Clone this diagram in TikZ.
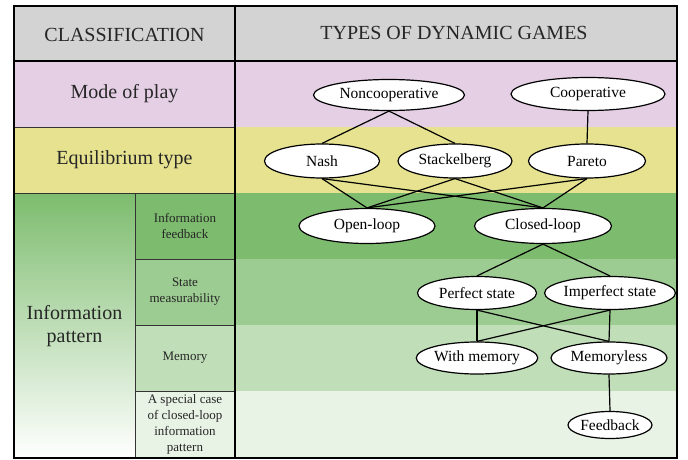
\documentclass[tikz,border=0pt]{standalone}
\usepackage{fontspec}
\setmainfont{Liberation Serif}
\usetikzlibrary{shapes.geometric}
\definecolor{hdrgray}{HTML}{D3D3D3}
\definecolor{playpink}{HTML}{E4CFE4}
\definecolor{eqyellow}{HTML}{E6E28F}
\definecolor{fbgreen}{HTML}{7DBC6E}
\definecolor{smgreen}{HTML}{9DCC92}
\definecolor{memgreen}{HTML}{C0DEB7}
\definecolor{spgreen}{HTML}{E8F2E5}

\begin{document}
\begin{tikzpicture}[x=1pt,y=-1pt,semithick]
\tikzstyle{game}=[ellipse,draw=black,line width=1.2pt,fill=white,inner sep=0pt,
                  font=\fontsize{15.5}{18}\selectfont]
\tikzstyle{big}=[font=\fontsize{20}{23}\selectfont,align=center,text=black!85]
\tikzstyle{small}=[font=\fontsize{13}{16}\selectfont,align=center,text=black!85]
\tikzstyle{link}=[line width=1.2pt]
\useasboundingbox (0,0) rectangle (688,460);

\fill[hdrgray] (14,6) rectangle (677,61);
\fill[playpink] (14,61) rectangle (677,127);
\fill[eqyellow] (14,127) rectangle (677,193);
\fill[fbgreen] (135,193) rectangle (677,259);
\fill[smgreen] (135,259) rectangle (677,325);
\fill[memgreen] (135,325) rectangle (677,391);
\fill[spgreen] (135,391) rectangle (677,458);
\shade[top color=fbgreen,bottom color=white] (14,193) rectangle (135,458);
\draw[line width=1pt,black!80] (14,127) -- (235,127) (14,193) -- (235,193)
      (135,193) -- (135,458) (135,259) -- (235,259) (135,325) -- (235,325)
      (135,391) -- (235,391);
\draw[line width=2.5pt] (14,61) -- (677,61) (235,6) -- (235,458);
\draw[line width=2pt] (14,6) rectangle (677,458);

\node [big] (classif) at (124.5,35) {CLASSIFICATION};
\node [big] (types) at (454,33) {TYPES OF DYNAMIC GAMES};
\node [big] (play) at (124.5,94) {Mode of play};
\node [big] (equil) at (124.5,160) {Equilibrium type};
\node [big] (pattern) at (74.5,326) {Information\\pattern};
\node [small] (feedrow) at (185,226) {Information\\feedback};
\node [small] (staterow) at (185,292) {State\\measurability};
\node [small] (memrow) at (185,358) {Memory};
\node [small] (specrow) at (185,424) {A special case\\of closed-loop\\information\\pattern};

\node [game,minimum width=151pt,minimum height=31pt] (noncoop) at (389,95) {Noncooperative};
\node [game,minimum width=154pt,minimum height=33pt] (coop) at (588,94) {Cooperative};
\node [game,minimum width=115pt,minimum height=34pt] (nash) at (322,161) {Nash};
\node [game,minimum width=114pt,minimum height=34pt] (stackel) at (455,161) {Stackelberg};
\node [game,minimum width=117pt,minimum height=34pt] (pareto) at (587,161) {Pareto};
\node [game,minimum width=136pt,minimum height=35pt] (openloop) at (367,226) {Open-loop};
\node [game,minimum width=137pt,minimum height=35pt] (closedloop) at (543,226) {Closed-loop};
\node [game,minimum width=119pt,minimum height=33pt] (perfect) at (477,293) {Perfect state};
\node [game,minimum width=118pt,minimum height=33pt] (imperfect) at (610,293) {Imperfect state};
\node [game,minimum width=119pt,minimum height=32pt] (withmem) at (477,358) {With memory};
\node [game,minimum width=116pt,minimum height=32pt] (memless) at (609,358) {Memoryless};
\node [game,minimum width=82pt,minimum height=27pt] (feedback) at (610,425) {Feedback};

\path[link] (noncoop.south) edge (nash.north)
            (noncoop.south) edge (stackel.north)
            (coop.south) edge (pareto.north)
            (nash.south) edge (openloop.north)
            (nash.south) edge (closedloop.north)
            (stackel.south) edge (openloop.north)
            (stackel.south) edge (closedloop.north)
            (pareto.south) edge (openloop.north)
            (pareto.south) edge (closedloop.north)
            (closedloop.south) edge (perfect.north)
            (closedloop.south) edge (imperfect.north)
            (perfect.south) edge (withmem.north)
            (perfect.south) edge (memless.north)
            (imperfect.south) edge (withmem.north)
            (imperfect.south) edge (memless.north)
            (memless.south) edge (feedback.north);
\end{tikzpicture}
\end{document}
